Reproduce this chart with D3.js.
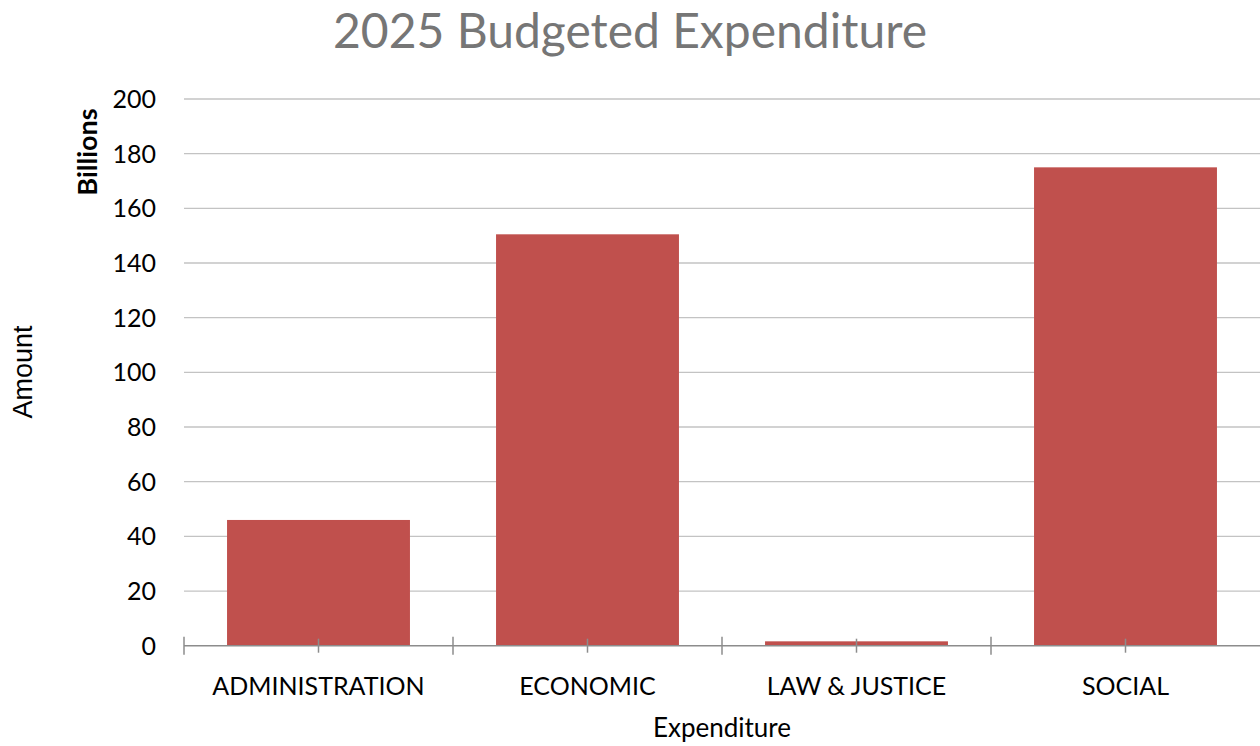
<!DOCTYPE html>
<html>
<head>
<meta charset="utf-8">
<script src="https://cdn.jsdelivr.net/npm/d3@7"></script>
<style>
  html, body { margin: 0; padding: 0; background: #fff; }
  svg { display: block; }
</style>
</head>
<body>
<svg id="chart" width="1260" height="746"></svg>
<script>
// Budget categories and amounts (billions)
const categories = ["ADMINISTRATION", "ECONOMIC", "LAW & JUSTICE", "SOCIAL"];
const amounts = [46.0, 150.5, 1.6, 175.0];
const yTicks = [0, 20, 40, 60, 80, 100, 120, 140, 160, 180, 200];

const titleText = "2025 Budgeted Expenditure";
const xTitle = "Expenditure";
const yTitle = "Amount";
const unitLabel = "Billions";

const font = "Lato, 'Open Sans', sans-serif";
const svg = d3.select("#chart");

const plotLeft = 184, plotRight = 1260, plotTop = 99, plotBottom = 645.7;

const x = d3.scaleBand()
  .domain(categories)
  .range([plotLeft, plotRight])
  .paddingInner(0.32)
  .paddingOuter(0.16);

const y = d3.scaleLinear().domain([0, 200]).range([plotBottom, plotTop]);

// horizontal gridlines
svg.append("g")
  .selectAll("line")
  .data(yTicks.filter(d => d > 0))
  .join("line")
  .attr("x1", plotLeft).attr("x2", plotRight)
  .attr("y1", d => y(d)).attr("y2", d => y(d))
  .attr("stroke", "#c3c3c3").attr("stroke-width", 1.3);

// y tick labels
svg.append("g")
  .selectAll("text")
  .data(yTicks)
  .join("text")
  .attr("x", 156)
  .attr("y", d => y(d))
  .attr("dy", "0.36em")
  .attr("text-anchor", "end")
  .attr("font-family", font)
  .attr("font-size", 25)
  .attr("fill", "#000")
  .text(d => d);

// bars
svg.append("g")
  .selectAll("rect")
  .data(categories)
  .join("rect")
  .attr("x", d => x(d))
  .attr("width", x.bandwidth())
  .attr("y", (d, i) => y(amounts[i]))
  .attr("height", (d, i) => y(0) - y(amounts[i]))
  .attr("fill", "#c0504d");

// x axis line
svg.append("line")
  .attr("x1", plotLeft).attr("x2", plotRight)
  .attr("y1", y(0)).attr("y2", y(0))
  .attr("stroke", "#8c8c8c").attr("stroke-width", 1.5);

// category boundary ticks
const step = x.step();
const bounds = d3.range(categories.length).map(i => plotLeft + i * step);
svg.append("g")
  .selectAll("line")
  .data(bounds)
  .join("line")
  .attr("x1", d => d).attr("x2", d => d)
  .attr("y1", y(0) - 9).attr("y2", y(0) + 9)
  .attr("stroke", "#8c8c8c").attr("stroke-width", 1.5);

// category centre ticks
svg.append("g")
  .selectAll("line")
  .data(categories)
  .join("line")
  .attr("x1", d => x(d) + x.bandwidth() / 2).attr("x2", d => x(d) + x.bandwidth() / 2)
  .attr("y1", y(0) - 7).attr("y2", y(0) + 7)
  .attr("stroke", "#8c8c8c").attr("stroke-width", 1.5);

// category labels
svg.append("g")
  .selectAll("text")
  .data(categories)
  .join("text")
  .attr("x", d => x(d) + x.bandwidth() / 2)
  .attr("y", 695)
  .attr("text-anchor", "middle")
  .attr("font-family", font)
  .attr("font-size", 25)
  .attr("fill", "#000")
  .text(d => d);

// chart title
svg.append("text")
  .attr("x", 630).attr("y", 48)
  .attr("text-anchor", "middle")
  .attr("font-family", font)
  .attr("font-size", 48)
  .attr("fill", "#767676")
  .text(titleText);

// x axis title
svg.append("text")
  .attr("x", 722).attr("y", 737)
  .attr("text-anchor", "middle")
  .attr("font-family", font)
  .attr("font-size", 26)
  .attr("fill", "#000")
  .text(xTitle);

// y axis title
svg.append("text")
  .attr("transform", "translate(32,372) rotate(-90)")
  .attr("text-anchor", "middle")
  .attr("font-family", "'Liberation Sans', Arial, sans-serif")
  .attr("font-size", 27)
  .attr("fill", "#000")
  .text(yTitle);

// display unit label
svg.append("text")
  .attr("transform", "translate(97,152) rotate(-90)")
  .attr("text-anchor", "middle")
  .attr("font-family", font)
  .attr("font-weight", "bold")
  .attr("font-size", 27)
  .attr("fill", "#000")
  .text(unitLabel);
</script>
</body>
</html>
